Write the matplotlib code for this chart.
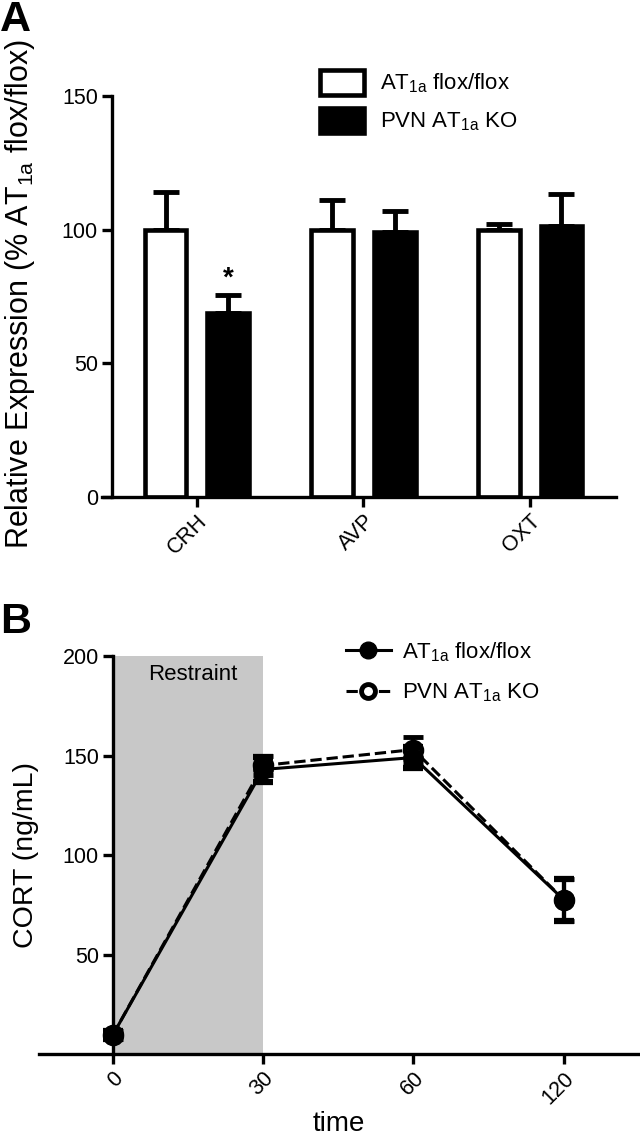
import matplotlib
matplotlib.use("Agg")
import matplotlib.pyplot as plt
from matplotlib.patches import Patch
from matplotlib.lines import Line2D
import numpy as np

plt.rcParams['font.family'] = ['Liberation Sans', 'DejaVu Sans']
plt.rcParams['mathtext.default'] = 'regular'

# Panel A data
genes = ['CRH', 'AVP', 'OXT']
floxExpr = [100, 100, 100]
floxExprErr = [14, 11, 2]
koExpr = [69, 99, 101.5]
koExprErr = [6.5, 8, 12]

# Panel B data
timeLabels = ['0', '30', '60', '120']
floxCort = [9.5, 143, 149, 77.5]
floxCortErr = [2, 6.5, 5.5, 10.5]
koCort = [9.5, 145, 153, 77.5]
koCortErr = [2, 5, 6.5, 10.5]

LW = 2.4
fig = plt.figure(figsize=(6.4, 11.37), dpi=100)

# ---------- Panel A ----------
axA = fig.add_axes([0.159, 0.5629, 0.8036, 0.3527])
x = np.arange(len(genes))
w = 0.25
off = 0.187
axA.bar(x - off, floxExpr, w, color='white', edgecolor='black', linewidth=3.3, zorder=2)
axA.bar(x + off, koExpr, w, color='black', edgecolor='black', linewidth=3.3, zorder=2)
axA.errorbar(x - off, floxExpr, yerr=[np.zeros(3), floxExprErr], fmt='none', ecolor='black',
             elinewidth=3.5, capsize=9.5, capthick=3.5, zorder=1)
axA.errorbar(x + off, koExpr, yerr=[np.zeros(3), koExprErr], fmt='none', ecolor='black',
             elinewidth=3.5, capsize=9.5, capthick=3.5, zorder=1)
axA.text(x[0] + off, koExpr[0] + koExprErr[0] + 1.5, '*', ha='center', va='bottom', fontsize=20, fontweight='bold')
axA.set_xlim(-0.57, 2.515)
axA.set_ylim(0, 150)
axA.set_yticks([0, 50, 100, 150])
axA.set_xticks(x)
axA.set_xticklabels(genes, rotation=45, ha='right', rotation_mode='anchor')
axA.spines['left'].set_position(('data', -0.51))
axA.spines['top'].set_visible(False)
axA.spines['right'].set_visible(False)
for s in ['left', 'bottom']:
    axA.spines[s].set_linewidth(LW)
axA.tick_params(width=LW, length=7, labelsize=15.5, pad=3)
axA.set_ylabel('Relative Expression (% AT$_{1a}$ flox/flox)', fontsize=22)
axA.yaxis.set_label_coords(-0.126, 0.505)
axA.legend(handles=[Patch(facecolor='white', edgecolor='black', linewidth=3.3, label='AT$_{1a}$ flox/flox'),
                    Patch(facecolor='black', edgecolor='black', linewidth=3.3, label='PVN AT$_{1a}$ KO')],
           loc='upper left', bbox_to_anchor=(0.5, 1 - 70 / 1137), bbox_transform=fig.transFigure,
           frameon=False, fontsize=16, borderpad=0, borderaxespad=0, handlelength=2.0, handleheight=1.35,
           handletextpad=0.7, labelspacing=0.55)
fig.text(0.0, 1.0, 'A', fontsize=31, fontweight='bold', va='top', ha='left')

# ---------- Panel B ----------
axB = fig.add_axes([0.061, 0.0730, 0.9375, 0.350])
t = np.arange(len(timeLabels))
axB.axvspan(0, 1, ymin=0, ymax=1, color='#c8c8c8', zorder=0, lw=0)
axB.text(0.53, 196, 'Restraint', ha='center', va='top', fontsize=16)
axB.errorbar(t, koCort, yerr=koCortErr, color='black', lw=2.2, ls='--', marker='o', markersize=12,
             markerfacecolor='white', markeredgewidth=3.5, capsize=7, capthick=4.5, elinewidth=3, zorder=3)
axB.errorbar(t, floxCort, yerr=floxCortErr, color='black', lw=2.2, marker='o', markersize=14,
             markerfacecolor='black', capsize=7, capthick=4.5, elinewidth=3, zorder=4)
axB.set_xlim(-0.49, 3.5)
axB.set_ylim(0, 200)
axB.set_yticks([50, 100, 150, 200])
axB.set_xticks(t)
axB.set_xticklabels(timeLabels, rotation=45, ha='right', rotation_mode='anchor')
axB.spines['left'].set_position(('data', 0))
axB.spines['top'].set_visible(False)
axB.spines['right'].set_visible(False)
for s in ['left', 'bottom']:
    axB.spines[s].set_linewidth(LW)
axB.tick_params(width=LW, length=7, labelsize=15.5, pad=3)
axB.set_ylabel('CORT (ng/mL)', fontsize=20.5)
axB.yaxis.set_label_coords(0.0, 0.5)
axB.set_xlabel('time', fontsize=20, labelpad=2)
axB.legend(handles=[Line2D([], [], color='black', lw=2.2, marker='o', markersize=12, label='AT$_{1a}$ flox/flox'),
                    Line2D([], [], color='black', lw=2.2, ls='--', marker='o', markersize=10,
                           markerfacecolor='white', markeredgewidth=3.5, label='PVN AT$_{1a}$ KO')],
           loc='upper left', bbox_to_anchor=(0.541, 1 - 640 / 1137), bbox_transform=fig.transFigure,
           frameon=False, fontsize=16, borderpad=0, borderaxespad=0, handlelength=2.0,
           handletextpad=0.5, labelspacing=0.8)
fig.text(0.0, 1 - 602 / 1137, 'B', fontsize=31, fontweight='bold', va='top', ha='left')

fig.savefig('out.png', dpi=100)
